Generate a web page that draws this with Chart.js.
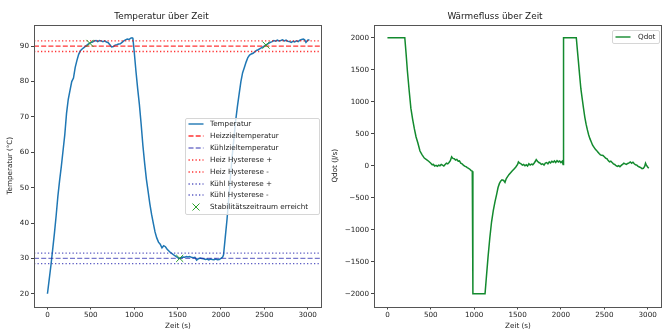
<!DOCTYPE html>
<html><head><meta charset="utf-8">
<script src="https://cdn.jsdelivr.net/npm/chart.js@4"></script>
<style>
html,body{margin:0;padding:0;background:#fff;}
#wrap{position:relative;width:664px;height:331px;overflow:hidden;font-family:'DejaVu Sans',sans-serif;background:#fff;}
canvas{position:absolute;top:0;}
.legend{position:absolute;background:rgba(255,255,255,0.8);border:1px solid #d6d6d6;border-radius:2px;box-sizing:border-box;font-size:7.2px;color:#1a1a1a;}
.row{position:absolute;left:0;height:10px;line-height:10px;white-space:nowrap;}
.row svg{position:absolute;top:0;}
.row span{position:absolute;}
</style></head>
<body>
<div id="wrap">
  <canvas id="c1" width="328" height="331" style="left:0;width:328px;height:331px"></canvas>
  <canvas id="c2" width="336" height="331" style="left:328px;width:336px;height:331px"></canvas>
  <div id="leg1" class="legend" style="left:185px;top:118px;width:135px;height:97px"></div>
  <div id="leg2" class="legend" style="left:612px;top:30px;width:48px;height:14px"></div>
</div>
<script>
// ---------- data ----------
const tempTime = [0,20,40,60,80,100,120,140,160,180,200,220,240,260,280,300,320,340,360,380,400,420,440,460,480,500,520,540,560,580,600,620,640,660,680,700,720,740,760,780,800,820,840,860,880,900,920,940,960,975,985,
1000,1020,1040,1060,1080,1100,1120,1140,1160,1180,1200,1220,1240,1260,1280,1300,1320,1340,1360,1380,1400,1420,1440,1460,1480,1500,1520,1540,1560,1580,1600,1620,1640,1660,1680,1700,1720,1740,1760,1780,1800,1820,1840,1860,1880,1900,1920,1940,1960,1980,2000,2020,
2030,2050,2070,2090,2110,2130,2150,2170,2190,2210,2230,2250,2270,2290,2310,2330,2350,2370,2390,2410,2430,2450,2470,2490,2510,2530,2550,2570,2590,2610,2630,2650,2670,2690,2710,2730,2750,2770,2790,2810,2830,2850,2870,2890,2910,2930,2950,2965,2980,3000,3020];
const tempVal = [20,24,28,32.5,37,42,47.5,52,56,60.5,65,71,75,77.5,80,81,84,86,87.7,88.7,89.2,89.6,90,90.4,90.8,91,91.2,91.5,91.6,91.3,91.6,91.5,91.3,91.5,91.2,91.0,90.4,89.8,89.9,90.3,90.4,90.6,90.7,91.1,91.5,91.8,92.0,91.9,92.3,92.4,92.2,
88.5,83,78,73.5,68,62,57,52.5,49,45.5,42.5,40,37.5,35.8,34.6,34,33,33.6,33.3,32.6,32.1,31.6,31.3,30.9,30.6,30.2,30.0,30.2,30.4,30.3,30.5,30.4,30.5,30.3,30.2,30.3,29.5,29.9,30.1,30.0,29.9,29.7,29.8,29.6,29.8,29.7,29.6,29.8,29.6,29.7,30.0,30.4,
31,36,41,47,53,59,64,69,73,76.5,80,82.5,84,85.5,86.8,87.5,87.8,88.0,88.4,88.8,89.0,89.3,89.6,89.9,90.2,90.5,90.8,91.1,91.3,91.6,91.4,91.7,91.5,91.6,91.8,91.5,91.7,91.4,91.3,91.1,91.4,91.2,91.5,91.3,91.7,91.9,92.0,91.8,91.1,91.7,91.8];

const qTime = [0,200,215,230,250,270,290,310,330,350,375,400,425,450,475,500,515,530,545,560,575,590,605,620,635,650,665,680,695,710,725,740,755,770,785,800,815,830,845,860,875,890,905,920,935,950,965,978,
985,1125,1140,1160,1180,1200,1220,1240,1260,1275,1290,1305,1320,1340,1355,1370,1385,1400,1420,1440,1460,1480,1500,1510,1525,1540,1555,1570,1585,1600,1615,1630,1645,1660,1675,1690,1705,1715,1730,1745,1760,1775,1790,1805,1820,1835,1850,1865,1880,1895,1910,1925,1940,1955,1970,1985,2000,2015,2025,
2030,2177,2190,2200,2215,2230,2245,2260,2275,2290,2305,2320,2335,2350,2365,2380,2395,2410,2425,2440,2455,2470,2485,2500,2515,2530,2545,2560,2575,2590,2605,2620,2635,2650,2665,2680,2695,2710,2725,2740,2755,2770,2785,2800,2815,2830,2845,2860,2875,2890,2905,2920,2935,2950,2965,2975,2985,3000,3012];
const qVal = [2000,2000,1750,1480,1180,900,730,580,450,360,230,170,120,95,70,40,15,20,-5,5,-10,10,0,20,10,-5,20,40,30,50,80,140,115,110,90,100,70,75,40,30,10,-5,-15,-30,-40,-55,-75,-85,
-2000,-2000,-1750,-1420,-1130,-880,-700,-560,-440,-340,-280,-240,-220,-230,-260,-200,-170,-140,-110,-80,-50,-20,20,60,40,30,10,20,0,15,-5,30,10,25,15,40,70,95,70,50,40,20,30,10,40,50,30,60,45,70,55,75,50,80,60,75,50,70,20,
2000,2000,1800,1650,1420,1200,1050,900,760,650,560,480,420,370,320,290,260,240,215,190,170,165,160,140,120,110,80,60,70,50,30,20,0,-10,0,-15,5,20,40,30,20,35,45,60,40,55,30,15,10,-10,-20,-30,-45,-40,-10,40,10,-20,-40];

const stabTime = [490, 1525, 2520];
const stabTemp = [90.8, 30.0, 90.3];

const hLineVals = [90, 30, 91.5, 88.5, 31.5, 28.5];
const hLineLabels = ['Heizzieltemperatur','Kühlzieltemperatur','Heiz Hysterese +','Heiz Hysterese -','Kühl Hysterese +','Kühl Hysterese -'];

const xTicks = [0,500,1000,1500,2000,2500,3000];
const yTicksTemp = [20,30,40,50,60,70,80,90];
const yTicksQ = [-2000,-1500,-1000,-500,0,500,1000,1500,2000];

const xMin = -155, xMax = 3165;
const tempMin = 16.4, tempMax = 96.0;
const qMin = -2200, qMax = 2200;

// ---------- styles ----------
const RED = 'rgba(255,0,0,0.8)';
const BLUE = 'rgba(30,30,170,0.6)';
const BLUE_DOT = 'rgba(50,50,180,0.8)';
const hStyles = [
  {color: RED, dash: [5,2.2]},
  {color: BLUE, dash: [5,2.2]},
  {color: RED, dash: [1.3,2.2]},
  {color: RED, dash: [1.3,2.2]},
  {color: BLUE_DOT, dash: [1.3,2.2]},
  {color: BLUE_DOT, dash: [1.3,2.2]}
];
const TEMP_COLOR = '#1f77b4';
const Q_COLOR = '#138a2e';

Chart.defaults.font.family = "'DejaVu Sans', sans-serif";
Chart.defaults.font.size = 7.2;
Chart.defaults.color = '#1a1a1a';

const fmt = v => v < 0 ? '\u2212' + Math.abs(v) : String(v);

const boxPlugin = {
  id: 'box',
  afterDraw(chart) {
    const {ctx, chartArea: a} = chart;
    ctx.save();
    ctx.strokeStyle = '#555';
    ctx.lineWidth = 1;
    ctx.strokeRect(Math.round(a.left) + 0.5, Math.round(a.top) + 0.5, Math.round(a.right - a.left) - 1, Math.round(a.bottom - a.top));
    ctx.restore();
  }
};

function xScale() {
  return {
    type: 'linear', min: xMin, max: xMax,
    afterBuildTicks: s => { s.ticks = xTicks.map(v => ({value: v})); },
    afterFit: s => { s.height = 24.5; },
    grid: {drawOnChartArea: false, drawTicks: true, tickLength: 3, color: '#444'},
    border: {display: false},
    ticks: {padding: 1.5, maxRotation: 0, autoSkip: false, callback: fmt},
    title: {display: true, text: 'Zeit (s)', padding: {top: 0, bottom: 1}}
  };
}
function yScale(min, max, ticks, label, width, titlePad) {
  return {
    type: 'linear', min: min, max: max,
    afterBuildTicks: s => { s.ticks = ticks.map(v => ({value: v})); },
    afterFit: s => { s.width = width; },
    grid: {drawOnChartArea: false, drawTicks: true, tickLength: 3, color: '#444'},
    border: {display: false},
    ticks: {padding: 2, autoSkip: false, callback: fmt},
    title: {display: true, text: label, padding: {top: titlePad, bottom: 0}}
  };
}
const titleOpts = text => ({
  display: true, text: text, color: '#1a1a1a',
  font: {size: 8.9, weight: 'normal', lineHeight: 1.2},
  padding: {top: 11.3, bottom: 3.0}
});

// ---------- left chart ----------
const datasets1 = [{
  label: 'Temperatur',
  data: tempTime.map((t, i) => ({x: t, y: tempVal[i]})),
  borderColor: TEMP_COLOR, borderWidth: 1.5, pointRadius: 0, showLine: true, order: 3
}];
hLineVals.forEach((v, i) => {
  datasets1.push({
    label: hLineLabels[i],
    data: [{x: xMin, y: v}, {x: xMax, y: v}],
    borderColor: hStyles[i].color, borderDash: hStyles[i].dash, borderWidth: 1.3,
    pointRadius: 0, showLine: true, order: 2
  });
});
datasets1.push({
  label: 'Stabilitätszeitraum erreicht',
  data: stabTime.map((t, i) => ({x: t, y: stabTemp[i]})),
  pointStyle: 'crossRot', pointRadius: 5, borderColor: '#2ca02c', borderWidth: 1, showLine: false, order: 1
});

new Chart(document.getElementById('c1'), {
  type: 'scatter',
  data: {datasets: datasets1},
  options: {
    responsive: false, animation: false, devicePixelRatio: 1,
    layout: {padding: {left: 0, right: 5, top: 0, bottom: 0}},
    plugins: {legend: {display: false}, tooltip: {enabled: false}, title: titleOpts('Temperatur über Zeit')},
    scales: {
      x: xScale(),
      y: yScale(tempMin, tempMax, yTicksTemp, 'Temperatur (°C)', 34, 6.3)
    }
  },
  plugins: [boxPlugin]
});

// ---------- right chart ----------
new Chart(document.getElementById('c2'), {
  type: 'scatter',
  data: {datasets: [{
    label: 'Qdot',
    data: qTime.map((t, i) => ({x: t, y: qVal[i]})),
    borderColor: Q_COLOR, borderWidth: 1.5, pointRadius: 0, showLine: true
  }]},
  options: {
    responsive: false, animation: false, devicePixelRatio: 1,
    layout: {padding: {left: 0, right: 2, top: 0, bottom: 0}},
    plugins: {legend: {display: false}, tooltip: {enabled: false}, title: titleOpts('Wärmefluss über Zeit')},
    scales: {
      x: xScale(),
      y: yScale(qMin, qMax, yTicksQ, 'Qdot (J/s)', 46, 2.6)
    }
  },
  plugins: [boxPlugin]
});

// ---------- HTML legends ----------
function sample(kind, color, dash) {
  if (kind === 'x') {
    return '<svg width="16" height="10"><path d="M4.5 1.5 L11.5 8.5 M11.5 1.5 L4.5 8.5" stroke="' + color + '" stroke-width="1" fill="none"/></svg>';
  }
  const da = dash ? ' stroke-dasharray="' + dash.join(',') + '"' : '';
  return '<svg width="16" height="10"><line x1="0.5" y1="5" x2="15.5" y2="5" stroke="' + color + '" stroke-width="1.4"' + da + '/></svg>';
}
const leg1 = document.getElementById('leg1');
const items1 = [{label: 'Temperatur', kind: 'line', color: TEMP_COLOR, dash: null}];
hLineLabels.forEach((l, i) => items1.push({label: l, kind: 'line', color: hStyles[i].color, dash: hStyles[i].dash}));
items1.push({label: 'Stabilitätszeitraum erreicht', kind: 'x', color: '#2ca02c'});
items1.forEach((it, i) => {
  const r = document.createElement('div');
  r.className = 'row';
  r.style.top = (0.3 + i * 11.86) + 'px';
  r.style.width = '130px';
  r.innerHTML = sample(it.kind, it.color, it.dash).replace('<svg', '<svg style="left:2px"') + '<span style="left:24px">' + it.label + '</span>';
  leg1.appendChild(r);
});
const leg2 = document.getElementById('leg2');
const r2 = document.createElement('div');
r2.className = 'row';
r2.style.top = '1px';
r2.style.width = '46px';
r2.innerHTML = sample('line', Q_COLOR, null).replace('<svg', '<svg style="left:2px"') + '<span style="left:25px">Qdot</span>';
leg2.appendChild(r2);
</script>
</body></html>
